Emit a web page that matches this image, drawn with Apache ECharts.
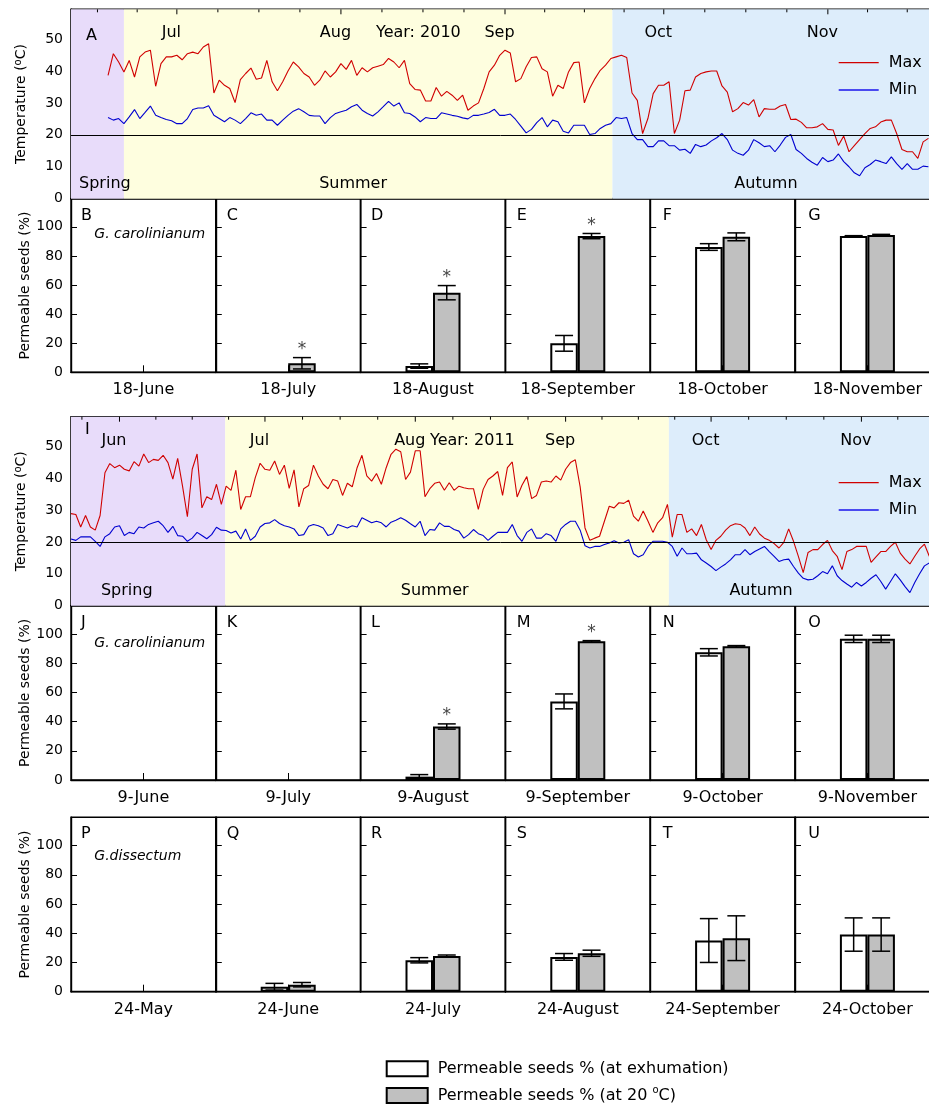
<!DOCTYPE html>
<html><head><meta charset="utf-8">
<script src="https://cdn.jsdelivr.net/npm/echarts@6/dist/echarts.min.js"></script>
<style>html,body{margin:0;padding:0;background:#fff}#c{width:929px;height:1106px}</style>
</head><body><div id="c"></div>
<script>
const FONT = 'DejaVu Sans';
// ---------- temperature data (day of year) ----------
const start2010 = 169;
const tmax2010 = [38.6,45.4,42.8,39.7,43.3,38.1,44.4,45.9,46.5,35.2,42.3,44.4,44.4,44.9,43.5,45.4,45.9,45.4,47.5,48.5,33.1,37.1,35.5,34.5,30.1,37.3,39.2,40.9,37.4,37.8,43.3,36.6,33.8,36.6,40.0,42.8,
41.3,39.2,38.1,35.5,37.1,40.0,38.1,39.7,42.3,40.5,43.3,38.6,41.0,39.7,41.0,41.5,42.0,43.9,42.8,41.0,43.3,36.0,34.2,34.0,30.6,30.6,34.8,32.1,33.6,32.4,30.8,32.4,27.7,29.0,30.0,34.5,39.7,41.8,44.9,46.5,45.6,36.6,37.6,41.3,44.2,44.4,40.7,39.7,32.1,35.5,34.5,39.7,42.6,42.8,30.0,34.5,37.6,40.2,41.8,
43.9,44.4,44.9,44.2,33.1,30.8,20.4,25.1,32.9,35.5,35.5,36.6,20.4,24.6,33.8,34.0,38.1,39.2,39.7,40.0,40.0,35.3,33.4,27.2,28.2,30.1,29.3,31.0,25.6,28.2,28.0,28.0,29.0,29.5,24.8,24.9,23.9,22.2,22.2,22.5,23.5,21.7,21.5,16.7,19.6,14.7,16.6,18.5,20.4,22.0,22.5,24.0,24.6,24.6,20.4,15.4,14.7,14.7,12.6,17.8,18.9];
const tmin2010 = [25.4,24.6,25.1,23.5,25.6,27.9,25.1,27.0,29.0,26.1,25.4,24.8,24.4,23.5,23.5,25.1,27.9,28.4,28.4,29.1,26.1,25.1,24.1,25.4,24.6,23.5,25.1,26.9,26.1,26.5,24.6,24.6,23.0,24.6,26.1,27.4,
28.2,27.2,26.1,25.9,25.9,23.5,25.4,26.7,27.2,27.7,28.8,29.5,27.7,26.7,25.9,27.2,28.8,30.5,29.0,30.0,26.9,26.7,25.6,24.1,25.4,25.1,25.1,26.9,26.5,26.1,25.8,25.3,25.0,26.1,26.1,26.5,27.0,28.0,26.1,26.1,26.5,24.8,22.7,20.6,21.7,23.8,25.4,22.5,24.6,24.1,21.1,20.6,23.0,23.0,23.0,20.1,20.4,22.0,23.0,
23.5,25.4,25.1,25.4,20.4,18.5,18.5,16.3,16.3,18.1,18.1,16.6,16.6,15.2,15.5,14.2,17.0,16.3,16.8,18.1,19.1,20.4,18.5,15.2,14.2,13.6,15.2,18.5,17.5,16.3,16.6,14.7,16.8,19.2,20.1,15.4,14.2,12.6,11.4,10.5,12.9,11.6,12.1,14.0,11.6,10.0,8.1,7.2,9.7,10.7,12.1,11.6,11.0,13.1,11.0,9.2,11.0,9.2,9.2,10.2,10.0];
const start2011 = 142;
const tmax2011 = [28.9,28.6,24.7,28.3,24.7,23.7,28.3,41.7,44.6,43.3,44.1,42.8,42.3,45.2,43.8,47.6,44.9,45.9,45.6,47.2,44.9,39.7,46.2,37.5,27.9,42.8,47.6,30.7,34.2,33.3,38.1,31.8,37.5,36.2,42.5,30.2,34.2,34.2,40.2,44.7,42.8,42.5,45.4,41.2,44.1,36.8,42.6,31.0,36.7,37.7,44.1,40.7,
38.1,36.7,39.6,39.1,34.6,38.4,37.3,43.3,47.2,40.7,39.1,41.5,38.1,43.3,47.5,49.1,48.3,39.6,41.9,48.6,48.6,34.2,36.7,38.4,38.8,36.2,38.6,36.2,37.5,37.0,36.7,36.7,30.2,36.5,39.6,40.7,42.1,34.6,43.3,45.1,34.1,37.8,40.5,33.6,34.6,38.8,39.1,38.8,40.7,39.4,42.8,44.9,45.8,37.3,24.4,20.5,21.2,21.8,26.5,31.2,30.7,32.3,
32.1,33.1,28.1,26.5,29.7,26.5,23.0,26.0,27.6,31.8,21.5,28.6,28.6,23.0,24.1,22.0,25.5,20.7,17.6,20.5,21.8,23.7,25.1,25.7,25.5,24.4,22.0,24.7,22.5,21.2,20.5,19.5,18.1,19.9,24.1,20.2,15.5,10.4,16.7,17.6,17.6,19.2,20.5,17.3,15.5,11.3,17.0,17.6,18.6,18.6,18.6,13.6,15.3,17.0,17.0,18.6,19.9,16.5,14.6,13.1,15.5,17.8,19.3,15.5];
const tmin2011 = [20.9,20.5,21.6,21.6,21.6,20.2,18.6,21.6,22.6,24.7,25.1,22.0,23.0,22.6,24.7,24.4,25.5,26.0,26.5,25.1,23.0,24.9,22.0,21.8,20.2,21.2,23.0,22.0,21.0,22.3,24.6,23.7,23.6,22.8,23.4,20.9,24.1,20.5,21.8,24.7,25.8,26.0,27.0,25.8,25.1,24.7,24.1,22.0,22.3,24.9,25.5,25.1,
24.4,22.0,22.6,25.5,24.9,24.4,25.1,24.7,27.6,26.8,26.0,26.5,26.0,24.7,26.2,26.8,27.6,26.8,25.7,24.7,26.5,22.0,23.9,23.7,26.0,24.9,24.9,23.9,23.4,21.2,22.3,23.9,22.6,22.0,20.5,21.8,23.0,23.0,23.0,25.5,22.0,20.2,23.0,24.1,21.2,21.2,22.6,22.0,20.2,24.1,25.5,26.5,26.5,23.7,18.8,18.1,18.6,18.6,19.2,19.7,20.4,19.7,
19.9,20.7,16.3,15.3,16.0,18.6,20.2,20.2,20.2,19.9,18.6,15.5,18.1,16.3,16.3,16.5,14.4,13.4,12.3,11.0,12.1,13.1,14.4,16.0,16.0,17.6,16.0,17.0,17.8,18.6,17.0,15.5,13.9,14.4,14.6,12.3,10.2,8.6,8.1,8.3,9.4,10.7,10.0,12.5,9.4,7.9,6.8,5.8,7.3,6.2,7.3,8.6,9.7,7.6,5.2,7.6,10.0,8.1,6.0,4.1,7.3,10.0,12.5,13.4];
const range2010 = [162, 326];
const range2011 = [142, 321];
// first day of each month (day of year); labelled months and the full month grid for minor ticks
const monthDays2010 = [182, 213, 244, 274, 305];
const monthNames2010 = ['Jul', 'Aug', 'Sep', 'Oct', 'Nov'];
const monthDays2011 = [152, 182, 213, 244, 274, 305];
const monthNames2011 = ['Jun', 'Jul', 'Aug', 'Sep', 'Oct', 'Nov'];
const monthGrid = [121, 152, 182, 213, 244, 274, 305, 335];
const seasonNames = ['Spring', 'Summer', 'Autumn'];
const seasonBounds2010 = [162, 172, 264.3, 326];
const seasonBounds2011 = [142, 173.8, 265.3, 321];
const seasonLabelDay2010 = [168.4, 215.3, 293.3];
const seasonLabelDay2011 = [153.5, 217, 284.3];
const refTemp = 20;
const tempTickStep = 10;
// ---------- seed permeability data ----------
const dateLabels = [
  ['18-June', '18-July', '18-August', '18-September', '18-October', '18-November'],
  ['9-June', '9-July', '9-August', '9-September', '9-October', '9-November'],
  ['24-May', '24-June', '24-July', '24-August', '24-September', '24-October']
];
const panelLetters = [['B','C','D','E','F','G'], ['J','K','L','M','N','O'], ['P','Q','R','S','T','U']];
const species = ['G. carolinianum', 'G. carolinianum', 'G.dissectum'];
const exhum =    [[0, 0, 4.3, 19.9, 86.1, 93.6], [0, 0, 2.3, 53.8, 87.4, 96.6], [0, 3.4, 21.5, 23.8, 35.0, 39.1]];
const exhumErr = [[0, 0, 1.5, 5.4, 2.3, 0.3],    [0, 0, 1.4, 5.1, 2.5, 2.5],    [0, 2.3, 1.8, 2.3, 15.0, 11.4]];
const at20 =     [[0, 6.2, 54.7, 93.6, 93.1, 94.3], [0, 0, 36.6, 94.9, 91.5, 96.6], [0, 4.8, 24.5, 26.3, 36.6, 39.1]];
const at20Err =  [[0, 3.9, 4.9, 1.8, 2.7, 0.5],  [0, 0, 1.8, 0.5, 0.5, 2.5],    [0, 1.5, 0.6, 2.1, 15.3, 11.4]];
const signif =   [[0, 1, 1, 1, 0, 0], [0, 0, 1, 1, 0, 0], [0, 0, 0, 0, 0, 0]];
const pctTicks = 20;
const NAME_EXH = 'Permeable seeds % (at exhumation)';
const NAME_20 = 'Permeable seeds % (at 20 \u00B0C)';

// ---------- layout ----------
const LEFT = 71, PW = 144.8, BAR_W = 27.5, CAP = 9, LW = 1.4;
const TMAX = 59.3, PMAX = 119.3;
const tempTops = [9.3, 416.7], tempH = [189.4, 189];
const barTops = [198.7, 605.7, 817.3], barH = [173.6, 174.3, 174.4];
const letterOff = [10, 11, 10.5, 11.3, 12.5, 13.3];
const speciesY = [235, 644, 857.5];

const grids = [], xAxes = [], yAxes = [], series = [], graphics = [];
const black = '#000';
const nz = v => (v === 0 ? null : v);

function tempPanel(idx, range, start, tmax, tmin, mDays, mNames, bounds, lblDays) {
  const gi = grids.length;
  grids.push({left: LEFT, top: tempTops[idx], width: 868, height: tempH[idx], show: true, borderColor: black, borderWidth: LW, outerBoundsMode: 'none', containLabel: false});
  xAxes.push({gridIndex: gi, type: 'value', position: 'top', min: range[0], max: range[1],
    axisLine: {show: true, lineStyle: {color: black, width: LW}}, splitLine: {show: false},
    axisTick: {show: false}, axisLabel: {show: false}});
  yAxes.push({gridIndex: gi, type: 'value', min: 0, max: TMAX, interval: tempTickStep,
    axisLine: {show: true, lineStyle: {color: black, width: LW}}, splitLine: {show: false},
    axisTick: {show: true, inside: true, length: 6, lineStyle: {color: black}},
    axisLabel: {fontSize: 14, fontFamily: FONT, color: black, margin: 8, formatter: v => (v % tempTickStep === 0 ? String(v) : '')},
    name: '{a|Temperature (}{b|o}{a|C)}', nameLocation: 'middle', nameRotate: 90, nameGap: 41,
    nameTextStyle: {rich: {a: {fontSize: 14, fontFamily: FONT, color: black, lineHeight: 17}, b: {fontSize: 10, fontFamily: FONT, color: black, verticalAlign: 'top', lineHeight: 10}}}});
  // season backgrounds
  const colors = ['#e8dcfa', '#fefedf', '#ddedfb'];
  series.push({type: 'line', xAxisIndex: gi, yAxisIndex: gi, data: [], z: 1, silent: true,
    markArea: {silent: true, data: seasonNames.map((s, i) => [{xAxis: bounds[i], itemStyle: {color: colors[i]}}, {xAxis: bounds[i + 1]}])}});
  series.push({type: 'line', xAxisIndex: gi, yAxisIndex: gi, data: [], z: 2, silent: true,
    markLine: {silent: true, symbol: 'none', label: {show: false}, lineStyle: {color: black, type: 'solid', width: 1}, data: [{yAxis: refTemp}]}});
  series.push({type: 'scatter', xAxisIndex: gi, yAxisIndex: gi, symbolSize: 0, silent: true, z: 3,
    itemStyle: {opacity: 1},
    data: seasonNames.map((s, i) => ({name: s, value: [lblDays[i], 4.6]})),
    label: {show: true, position: 'inside', formatter: '{b}', fontSize: 16, fontFamily: FONT, color: black, opacity: 1, textBorderWidth: 0, textBorderColor: 'transparent'}});
  // minor ticks: quarter-month marks along the top edge
  const minor = [];
  for (let m = 0; m < monthGrid.length - 1; m++) {
    for (let q = 1; q < 4; q++) {
      const d = monthGrid[m] + (monthGrid[m + 1] - monthGrid[m]) * q / 4;
      if (d > range[0] && d < range[1]) minor.push([d, 3]);
    }
  }
  // month ticks + labels along the top edge
  series.push({type: 'custom', xAxisIndex: gi, yAxisIndex: gi, z: 5, silent: true,
    data: mDays.map((d, i) => [d, 5, i]).concat(minor.map(t => [t[0], t[1], -1])),
    renderItem: (params, api) => {
      const p = api.coord([api.value(0), TMAX]);
      const len = api.value(1), li = api.value(2);
      const ch = [{type: 'line', shape: {x1: p[0], y1: p[1], x2: p[0], y2: p[1] + len}, style: {stroke: black, lineWidth: 1}}];
      if (li >= 0) ch.push({type: 'text', style: {text: mNames[li], x: p[0] - 5.5, y: p[1] + 24, align: 'center', verticalAlign: 'middle', fontSize: 16, fontFamily: FONT, fill: black}});
      return {type: 'group', children: ch};
    }});
  series.push({type: 'line', name: 'Max', xAxisIndex: gi, yAxisIndex: gi, symbol: 'none', z: 4,
    data: tmax.map((v, i) => [start + i, v]), lineStyle: {color: '#d00000', width: 1.1}, itemStyle: {color: '#d00000'}});
  series.push({type: 'line', name: 'Min', xAxisIndex: gi, yAxisIndex: gi, symbol: 'none', z: 4,
    data: tmin.map((v, i) => [start + i, v]), lineStyle: {color: '#0000d0', width: 1.1}, itemStyle: {color: '#0000d0'}});
}

function barRow(r) {
  for (let k = 0; k < 6; k++) {
    const gi = grids.length;
    grids.push({left: LEFT + k * PW, top: barTops[r], width: PW, height: barH[r], show: true, borderColor: black, borderWidth: LW, outerBoundsMode: 'none', containLabel: false});
    xAxes.push({gridIndex: gi, type: 'category', data: [dateLabels[r][k]],
      axisLine: {show: true, lineStyle: {color: black, width: LW}},
      axisTick: {show: true, alignWithLabel: true, inside: true, length: 7, lineStyle: {color: black}},
      axisLabel: {show: true, interval: 0, fontSize: 16, fontFamily: FONT, color: black, margin: 10}});
    const y = {gridIndex: gi, type: 'value', min: 0, max: PMAX, interval: pctTicks,
      axisLine: {show: true, lineStyle: {color: black, width: LW}}, splitLine: {show: false},
      axisTick: {show: true, inside: true, length: 6, lineStyle: {color: black}},
      axisLabel: {show: k === 0, fontSize: 14, fontFamily: FONT, color: black, margin: 8, formatter: v => (v % pctTicks === 0 ? String(v) : '')}};
    if (k === 0) {
      Object.assign(y, {name: 'Permeable seeds (%)', nameLocation: 'middle', nameRotate: 90, nameGap: 35,
        nameTextStyle: {fontSize: 14, fontFamily: FONT, color: black}});
    }
    yAxes.push(y);
    series.push({type: 'bar', name: NAME_EXH, xAxisIndex: gi, yAxisIndex: gi, data: [nz(exhum[r][k])], barWidth: BAR_W, barGap: '0%',
      itemStyle: {color: '#ffffff', borderColor: black, borderWidth: 2}, z: 3, silent: true});
    series.push({type: 'bar', name: NAME_20, xAxisIndex: gi, yAxisIndex: gi, data: [nz(at20[r][k])], barWidth: BAR_W, barGap: '0%',
      itemStyle: {color: '#c0c0c0', borderColor: black, borderWidth: 2}, z: 3, silent: true});
    series.push({type: 'custom', xAxisIndex: gi, yAxisIndex: gi, z: 6, silent: true,
      data: [[0, exhum[r][k], exhumErr[r][k], 0, -1], [0, at20[r][k], at20Err[r][k], signif[r][k], 1]],
      renderItem: (params, api) => {
        const v = api.value(1), e = api.value(2), star = api.value(3), side = api.value(4);
        const c = api.coord([0, v]);
        const x = c[0] + side * BAR_W / 2;
        const ch = [];
        let topY = c[1];
        if (e > 0) {
          const y1 = api.coord([0, v + e])[1], y0 = api.coord([0, v - e])[1];
          topY = y1;
          const ls = {stroke: black, lineWidth: 1.5};
          ch.push({type: 'line', shape: {x1: x, y1: y1, x2: x, y2: y0}, style: ls});
          ch.push({type: 'line', shape: {x1: x - CAP, y1: y1, x2: x + CAP, y2: y1}, style: ls});
          ch.push({type: 'line', shape: {x1: x - CAP, y1: y0, x2: x + CAP, y2: y0}, style: ls});
        }
        if (star) ch.push({type: 'text', style: {text: '*', x: x, y: topY - 8, align: 'center', verticalAlign: 'middle', fontSize: 17, fontFamily: FONT, fill: '#444'}});
        return {type: 'group', children: ch};
      }});
    graphics.push({type: 'text', left: LEFT + k * PW + letterOff[k], top: barTops[r] + 9, z: 100,
      style: {text: panelLetters[r][k], fontSize: 16, fontFamily: FONT, fill: black}});
  }
  graphics.push({type: 'text', left: 94.3, top: speciesY[r] - 8, z: 100,
    style: {text: species[r], fontSize: 14, fontStyle: 'italic', fontFamily: FONT, fill: black}});
}

tempPanel(0, range2010, start2010, tmax2010, tmin2010, monthDays2010, monthNames2010, seasonBounds2010, seasonLabelDay2010);
barRow(0);
tempPanel(1, range2011, start2011, tmax2011, tmin2011, monthDays2011, monthNames2011, seasonBounds2011, seasonLabelDay2011);
barRow(1);
barRow(2);

graphics.push({type: 'text', left: 86, top: 28, z: 100, style: {text: 'A', fontSize: 16, fontFamily: FONT, fill: black}});
graphics.push({type: 'text', left: 85, top: 422, z: 100, style: {text: 'I', fontSize: 16, fontFamily: FONT, fill: black}});
graphics.push({type: 'text', left: 376, top: 25, z: 100, style: {text: 'Year: 2010', fontSize: 16, fontFamily: FONT, fill: black}});
graphics.push({type: 'text', left: 430, top: 432.5, z: 100, style: {text: 'Year: 2011', fontSize: 16, fontFamily: FONT, fill: black}});

const legendText = {fontSize: 16, fontFamily: FONT, color: black, padding: [0, 0, 0, 5], lineHeight: 20,
  rich: {a: {fontSize: 16, fontFamily: FONT, color: black, lineHeight: 20}, s: {fontSize: 10, fontFamily: FONT, color: black, verticalAlign: 'top', lineHeight: 9}}};
const tempLegend = top => ({data: [{name: 'Max'}, {name: 'Min', lineStyle: {color: '#4a4af0', width: 2}}],
  orient: 'vertical', left: 837.7, top: top, padding: 0, itemWidth: 40, itemHeight: 14, itemGap: 11.3,
  selectedMode: false, itemStyle: {opacity: 0}, lineStyle: {width: 1.3},
  textStyle: {fontSize: 16, fontFamily: FONT, color: black, padding: [0, 0, 0, 5]}});
const barLegend = (name, fill, top) => ({
  data: [{name: name, icon: 'rect', itemStyle: {color: fill, borderColor: black, borderWidth: 2}}],
  orient: 'vertical', left: 385.7, top: top, padding: 0, itemWidth: 41, itemHeight: 15, selectedMode: false,
  formatter: n => n === NAME_20 ? '{a|Permeable seeds % (at 20 }{s|o}{a|C)}' : '{a|' + n + '}',
  textStyle: legendText});
const option = {
  animation: false,
  backgroundColor: '#fff',
  textStyle: {fontFamily: FONT},
  grid: grids, xAxis: xAxes, yAxis: yAxes, series: series,
  legend: [
    tempLegend(54.7),
    tempLegend(474.7),
    barLegend(NAME_EXH, '#ffffff', 1058.8),
    barLegend(NAME_20, '#c0c0c0', 1085.5)
  ],
  graphic: graphics
};
const chart = echarts.init(document.getElementById('c'), null, {renderer: 'canvas'});
chart.setOption(option);
</script></body></html>
